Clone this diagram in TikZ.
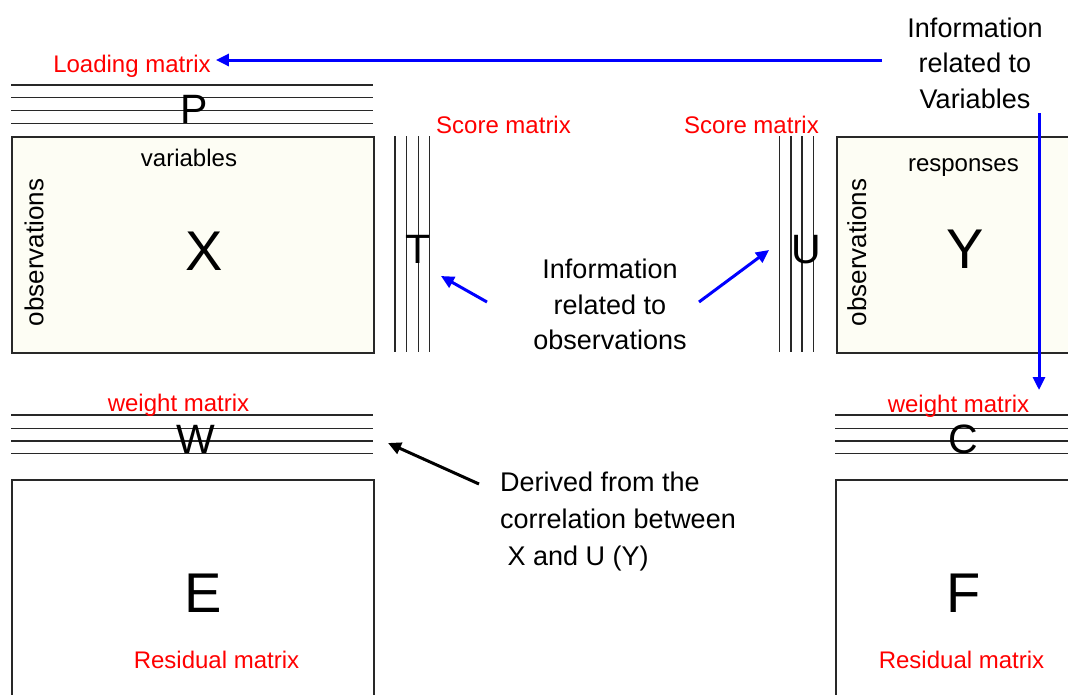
\documentclass[tikz,border=0pt]{standalone}
\usepackage{fontspec}
\setmainfont{Liberation Sans}
\usetikzlibrary{arrows.meta}
\definecolor{cream}{RGB}{253,253,244}
\definecolor{rulegray}{RGB}{40,40,40}

\tikzset{
  rule/.style={draw=rulegray, line width=1.5pt},
  mbox/.style={draw=rulegray, line width=1.5pt, inner sep=0pt, anchor=north west},
  redlabel/.style={text=red, font=\fontsize{24}{28}\selectfont, inner sep=0pt, anchor=base},
  axislabel/.style={font=\fontsize{24}{28}\selectfont, inner sep=0pt, anchor=base},
  obslabel/.style={font=\fontsize{26}{30}\selectfont, inner sep=0pt, anchor=base, rotate=90},
  bigletter/.style={font=\fontsize{56}{60}\selectfont, inner sep=0pt, anchor=base},
  letter/.style={font=\fontsize{41}{45}\selectfont, inner sep=0pt, anchor=base},
  note/.style={font=\fontsize{27}{35.5}\selectfont, inner sep=0pt, align=center, anchor=north},
  bluearrow/.style={draw=blue, line width=3pt, -{Triangle[length=13pt,width=12pt]}},
  blackarrow/.style={draw=black, line width=3pt, -{Triangle[length=13pt,width=12pt]}},
}

\begin{document}
\begin{tikzpicture}[x=1pt, y=-1pt]
  \path[use as bounding box, fill=white] (0,0) rectangle (1068,694);
  \clip (0,0) rectangle (1068,694);

  % ---- X block: loadings P, data X, scores T ----
  \foreach \yy in {85,97.7,110.7,123.3} \draw[rule] (11,\yy) -- (373,\yy);
  \node[letter] (P) at (194,123.3) {P};
  \node[mbox, fill=cream, minimum width=362pt, minimum height=216pt] (Xbox) at (11,136) {};
  \node[axislabel] (vars) at (189,166) {variables};
  \node[obslabel] (obsX) at (43.3,252.5) {observations};
  \node[bigletter] (X) at (204,270) {X};

  \foreach \xx in {395,406.7,418.3,429.3} \draw[rule] (\xx,136) -- (\xx,352);
  \node[letter] (T) at (418.3,263) {T};

  % ---- Y block: scores U, data Y ----
  \foreach \xx in {779.3,791,802,813.3} \draw[rule] (\xx,136) -- (\xx,352);
  \node[letter] (U) at (806.5,263) {U};
  \node[mbox, fill=cream, minimum width=260pt, minimum height=216pt] (Ybox) at (836,136) {};
  \node[axislabel] (resp) at (963.4,171) {responses};
  \node[obslabel] (obsY) at (866,252.5) {observations};
  \node[bigletter] (Y) at (965,268) {Y};

  % ---- weights W and C ----
  \foreach \yy in {415,428.7,441,453.7} {
    \draw[rule] (11,\yy) -- (373,\yy);
    \draw[rule] (835,\yy) -- (1068,\yy);
  }
  \node[letter] (W) at (196,453.7) {W};
  \node[letter] (C) at (963,453.7) {C};

  % ---- residuals E and F ----
  \node[mbox, fill=white, minimum width=362pt, minimum height=240pt] (Ebox) at (11,479) {};
  \node[bigletter] (E) at (203.5,612) {E};
  \node[mbox, fill=white, minimum width=260pt, minimum height=240pt] (Fbox) at (835,479) {};
  \node[bigletter] (F) at (964,612) {F};

  % ---- red captions ----
  \node[redlabel] (load) at (132,72.5) {Loading matrix};
  \node[redlabel] (scoreT) at (503.5,133) {Score matrix};
  \node[redlabel] (scoreU) at (751.5,133) {Score matrix};
  \node[redlabel] (wW) at (178.5,411.7) {weight matrix};
  \node[redlabel] (wC) at (958.5,412) {weight matrix};
  \node[redlabel] (resE) at (216.5,668) {Residual matrix};
  \node[redlabel] (resF) at (961.5,668) {Residual matrix};

  % ---- explanatory notes ----
  \node[note] (infoVar) at (975,17.3) {Information\\related to\\Variables};
  \node[note] (infoObs) at (610,259) {Information\\related to\\observations};
  \node[font=\fontsize{27}{37}\selectfont, inner sep=0pt, align=left, anchor=north west]
    (derived) at (500,471.5) {Derived from the\\correlation between\\\ X and U (Y)};

  % ---- arrows ----
  \coordinate (varTail) at (882,60);
  \coordinate (downTail) at (1039,113);
  \coordinate (downTip) at (1039,390);
  \coordinate (obsTailL) at (487,302);
  \coordinate (obsTipL) at (441,276);
  \coordinate (obsTailR) at (699,302);
  \coordinate (obsTipR) at (769,250);
  \coordinate (corTail) at (479,484);
  \coordinate (corTip) at (388,443);

  \draw[bluearrow] (varTail) -- ([xshift=5pt]load.east |- varTail);
  \draw[bluearrow] (downTail) -- (downTip);
  \draw[bluearrow] (obsTailL) -- (obsTipL);
  \draw[bluearrow] (obsTailR) -- (obsTipR);
  \draw[blackarrow] (corTail) -- (corTip);
\end{tikzpicture}
\end{document}
